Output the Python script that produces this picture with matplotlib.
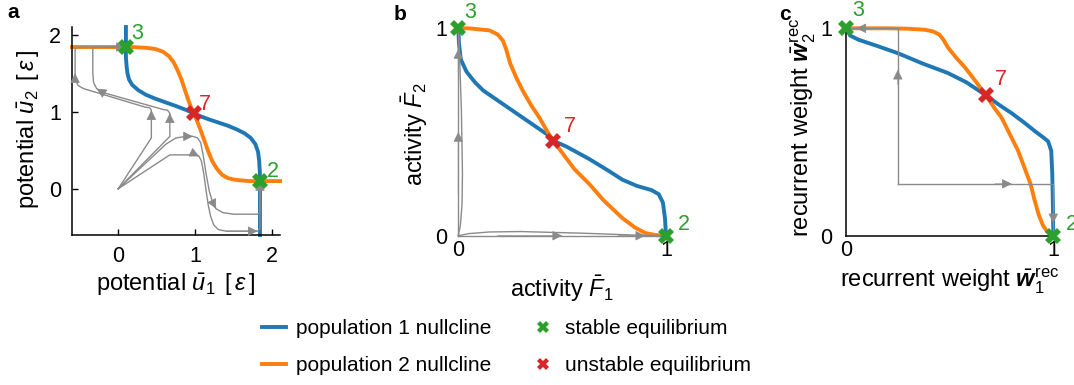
import matplotlib
matplotlib.use("Agg")
import matplotlib.pyplot as plt
from matplotlib.lines import Line2D

plt.rcParams["font.family"] = ["Liberation Sans", "DejaVu Sans"]
plt.rcParams["font.size"] = 15
plt.rcParams["mathtext.fontset"] = "custom"
plt.rcParams["mathtext.rm"] = "Liberation Sans"
plt.rcParams["mathtext.it"] = "Liberation Sans:italic"
plt.rcParams["mathtext.bf"] = "Liberation Sans:bold"
plt.rcParams["mathtext.bfit"] = "Liberation Sans:bold:italic"

BLUE = "#1f77b4"
ORANGE = "#ff7f0e"
GREEN = "#2ca02c"
RED = "#d62728"
GRAY = "#8a8a8a"

# ---------------- panel a: potentials ----------------
a_null1_u2 = [2.10, 1.90, 1.70, 1.58, 1.50, 1.42, 1.35, 1.28, 1.22, 1.17, 1.12, 1.07,
              1.02, 0.98, 0.94, 0.90, 0.86, 0.82, 0.77, 0.72, 0.66, 0.58, 0.48, 0.36,
              0.22, 0.10, -0.20, -0.60]
a_null1_u1 = [0.10, 0.10, 0.10, 0.11, 0.12, 0.14, 0.18, 0.26, 0.36, 0.48, 0.62, 0.76,
              0.89, 0.98, 1.07, 1.18, 1.30, 1.42, 1.54, 1.64, 1.72, 1.78, 1.815, 1.83,
              1.838, 1.84, 1.84, 1.84]
a_null2_u1 = [-0.60, -0.20, 0.10, 0.22, 0.36, 0.48, 0.58, 0.66, 0.72, 0.77, 0.82, 0.86,
              0.90, 0.94, 0.98, 1.02, 1.07, 1.12, 1.17, 1.22, 1.28, 1.35, 1.42, 1.50,
              1.58, 1.70, 1.90, 2.10]
a_null2_u2 = [1.84, 1.84, 1.84, 1.838, 1.83, 1.815, 1.78, 1.72, 1.64, 1.54, 1.42, 1.30,
              1.18, 1.07, 0.98, 0.89, 0.76, 0.62, 0.48, 0.36, 0.26, 0.18, 0.14, 0.12,
              0.11, 0.10, 0.10, 0.10]

a_traj_A_u1 = [0.0, 0.43, 0.43, 0.43, 0.41, 0.35, -0.45, -0.52, -0.55, -0.56, -0.56, -0.56, -0.54, -0.13, 0.10]
a_traj_A_u2 = [0.0, 0.66, 0.98, 1.02, 1.05, 1.06, 1.30, 1.34, 1.40, 1.44, 1.50, 1.81, 1.84, 1.84, 1.84]
a_traj_B_u1 = [0.0, 0.67, 0.67, 0.67, 0.64, 0.58, -0.20, -0.28, -0.32, -0.33, -0.33, -0.31, 0.10]
a_traj_B_u2 = [0.0, 0.68, 0.88, 0.98, 1.02, 1.03, 1.25, 1.30, 1.38, 1.50, 1.81, 1.84, 1.84]
a_traj_C_u1 = [0.0, 0.62, 0.75, 0.88, 0.97, 1.03, 1.07, 1.10, 1.14, 1.18, 1.22, 1.27, 1.36, 1.50, 1.81, 1.84, 1.84]
a_traj_C_u2 = [0.0, 0.58, 0.66, 0.68, 0.68, 0.66, 0.60, 0.45, 0.20, -0.02, -0.16, -0.26, -0.31, -0.33, -0.33, -0.30, 0.10]
a_traj_D_u1 = [0.0, 0.67, 1.01, 1.05, 1.08, 1.11, 1.14, 1.17, 1.20, 1.24, 1.30, 1.40, 1.81, 1.84, 1.84, 1.84]
a_traj_D_u2 = [0.0, 0.44, 0.44, 0.42, 0.36, 0.20, -0.02, -0.22, -0.36, -0.47, -0.53, -0.55, -0.55, -0.52, -0.12, 0.10]
# vertex indices carrying an arrowhead (pointing to the next vertex)
a_traj_A_arrows = [2, 9, 13]
a_traj_B_arrows = [2, 6]
a_traj_C_arrows = [3, 10]
a_traj_D_arrows = [2, 11, 14]

a_stable_u1 = [0.10, 1.84]
a_stable_u2 = [1.84, 0.10]
a_unstable_u1 = [0.98]
a_unstable_u2 = [0.98]

# ---------------- panel b: activities ----------------
b_null1_F1 = [0.0, 0.003, 0.012, 0.04, 0.08, 0.12, 0.20, 0.28, 0.36, 0.44, 0.457, 0.52,
              0.63, 0.72, 0.79, 0.86, 0.93, 0.965, 0.985, 0.995, 1.0]
b_null1_F2 = [1.0, 0.93, 0.85, 0.79, 0.74, 0.70, 0.645, 0.59, 0.535, 0.48, 0.458, 0.43,
              0.37, 0.315, 0.27, 0.24, 0.22, 0.20, 0.16, 0.085, 0.0]
b_null2_F1 = [0.0, 0.05, 0.10, 0.15, 0.19, 0.215, 0.23, 0.25, 0.28, 0.31, 0.35, 0.39,
              0.43, 0.457, 0.50, 0.56, 0.63, 0.70, 0.79, 0.85, 0.90, 0.95, 1.0]
b_null2_F2 = [1.0, 1.0, 0.995, 0.99, 0.97, 0.94, 0.90, 0.83, 0.76, 0.70, 0.63, 0.57,
              0.50, 0.458, 0.40, 0.32, 0.25, 0.17, 0.085, 0.04, 0.013, 0.003, 0.0]

b_traj_A_F1 = [0.0, 0.0, 0.0, 0.0, 0.0, 0.0]
b_traj_A_F2 = [0.0, 0.20, 0.50, 0.78, 0.90, 1.0]
b_traj_B_F1 = [0.0, 0.010, 0.018, 0.020, 0.015, 0.005, 0.0]
b_traj_B_F2 = [0.0, 0.05, 0.15, 0.30, 0.60, 0.90, 1.0]
b_traj_C_F1 = [0.0, 0.19, 0.50, 0.77, 0.90, 1.0]
b_traj_C_F2 = [0.0, 0.0, 0.0, 0.0, 0.0, 0.0]
b_traj_D_F1 = [0.0, 0.05, 0.15, 0.30, 0.60, 0.85, 1.0]
b_traj_D_F2 = [0.0, 0.010, 0.018, 0.020, 0.012, 0.003, 0.0]
b_traj_A_arrows = [1, 3]
b_traj_C_arrows = [1, 3]

b_stable_F1 = [0.0, 1.0]
b_stable_F2 = [1.0, 0.0]
b_unstable_F1 = [0.457]
b_unstable_F2 = [0.458]

# ---------------- panel c: recurrent weights ----------------
c_null1_w1 = [0.0, 0.02, 0.06, 0.15, 0.25, 0.37, 0.49, 0.58, 0.675, 0.74, 0.80, 0.86,
              0.91, 0.95, 0.975, 0.99, 0.995, 0.998, 1.0]
c_null1_w2 = [1.0, 0.965, 0.945, 0.915, 0.88, 0.83, 0.785, 0.74, 0.677, 0.63, 0.59, 0.545,
              0.505, 0.475, 0.455, 0.41, 0.30, 0.15, 0.0]
c_null2_w1 = [0.0, 0.10, 0.20, 0.30, 0.38, 0.42, 0.45, 0.47, 0.49, 0.53, 0.575, 0.625,
              0.675, 0.72, 0.75, 0.79, 0.83, 0.86, 0.89, 0.91, 0.93, 0.95, 0.97, 1.0]
c_null2_w2 = [1.0, 1.0, 1.0, 0.998, 0.993, 0.985, 0.97, 0.945, 0.91, 0.86, 0.81, 0.745,
              0.677, 0.61, 0.57, 0.49, 0.41, 0.33, 0.25, 0.17, 0.10, 0.05, 0.02, 0.0]

c_traj_A_w1 = [0.25, 0.25, 0.25, 0.25, 0.07, 0.05, 0.0]
c_traj_A_w2 = [0.25, 0.73, 0.80, 1.0, 1.0, 1.0, 1.0]
c_traj_B_w1 = [0.25, 0.72, 0.80, 1.0, 1.0, 1.0, 1.0]
c_traj_B_w2 = [0.25, 0.25, 0.25, 0.25, 0.085, 0.06, 0.0]
c_traj_A_arrows = [1, 4]
c_traj_B_arrows = [1, 4]

c_stable_w1 = [0.0, 1.0]
c_stable_w2 = [1.0, 0.0]
c_unstable_w1 = [0.675]
c_unstable_w2 = [0.677]

eq_labels_stable = ["3", "2"]
eq_labels_unstable = ["7"]

W, H = 1074, 385
fig = plt.figure(figsize=(W / 100, H / 100), dpi=100)

ax_a = fig.add_axes([72 / W, 1 - 235 / H, 208 / W, 208 / H])
ax_b = fig.add_axes([458.3 / W, 1 - 235.7 / H, 207.7 / W, 207.4 / H])
ax_c = fig.add_axes([846 / W, 1 - 235.7 / H, 207.3 / W, 207.4 / H])

NULL_LW = 2.8
TRAJ_LW = 1.0
TICK_FS = 15.5
LABEL_FS = 17


def draw_traj(ax, xs, ys, arrows=()):
    ax.plot(xs, ys, color=GRAY, lw=TRAJ_LW, zorder=3, clip_on=False,
            solid_joinstyle="round")
    for i in arrows:
        ax.annotate("", xy=(xs[i + 1], ys[i + 1]), xytext=(xs[i], ys[i]),
                    arrowprops=dict(arrowstyle="-|>,head_length=0.6,head_width=0.3",
                                    color=GRAY, lw=0.6, shrinkA=0, shrinkB=0,
                                    mutation_scale=10),
                    zorder=4)


def draw_equilibria(ax, sx, sy, ux, uy, offsets):
    ax.plot(sx, sy, ls="none", marker="X", ms=11, mew=0, color=GREEN,
            zorder=6, clip_on=False)
    ax.plot(ux, uy, ls="none", marker="X", ms=11, mew=0, color=RED,
            zorder=6, clip_on=False)
    pts = list(zip(sx, sy, eq_labels_stable, [GREEN] * len(sx))) + \
        list(zip(ux, uy, eq_labels_unstable, [RED] * len(ux)))
    for (x, y, lab, col), off in zip(pts, offsets):
        ax.annotate(lab, (x, y), xytext=off, textcoords="offset pixels",
                    color=col, fontsize=TICK_FS, ha="left", va="baseline",
                    zorder=7, annotation_clip=False)


# ---- panel a
ax = ax_a
ax.plot(a_null1_u1, a_null1_u2, color=BLUE, lw=NULL_LW, zorder=2, clip_on=False)
ax.plot(a_null2_u1, a_null2_u2, color=ORANGE, lw=NULL_LW, zorder=2, clip_on=False)
draw_traj(ax, a_traj_A_u1, a_traj_A_u2, a_traj_A_arrows)
draw_traj(ax, a_traj_B_u1, a_traj_B_u2, a_traj_B_arrows)
draw_traj(ax, a_traj_C_u1, a_traj_C_u2, a_traj_C_arrows)
draw_traj(ax, a_traj_D_u1, a_traj_D_u2, a_traj_D_arrows)
draw_equilibria(ax, a_stable_u1, a_stable_u2, a_unstable_u1, a_unstable_u2,
                [(5, 8), (7, 4), (5, 3)])
ax.set_xlim(-0.6, 2.1)
ax.set_ylim(-0.6, 2.1)
ax.set_xticks([0, 1, 2])
ax.set_yticks([0, 1, 2])
ax.tick_params(direction="in", length=4, width=1, pad=8, labelsize=TICK_FS)
ax.tick_params(axis="y", pad=8)
ax.set_xlabel(r"potential $\bar{u}_1\,$ [$\,\varepsilon\,$]", fontsize=LABEL_FS)
ax.set_ylabel(r"potential $\bar{u}_2\,$ [$\,\varepsilon\,$]", fontsize=LABEL_FS)
ax.xaxis.set_label_coords(0.5, -0.175)
ax.yaxis.set_label_coords(-0.145, 0.51)

# ---- panel b
ax = ax_b
ax.plot(b_null1_F1, b_null1_F2, color=BLUE, lw=NULL_LW, zorder=2, clip_on=False)
ax.plot(b_null2_F1, b_null2_F2, color=ORANGE, lw=NULL_LW, zorder=2, clip_on=False)
draw_traj(ax, b_traj_B_F1, b_traj_B_F2)
draw_traj(ax, b_traj_D_F1, b_traj_D_F2)
draw_traj(ax, b_traj_A_F1, b_traj_A_F2, b_traj_A_arrows)
draw_traj(ax, b_traj_C_F1, b_traj_C_F2, b_traj_C_arrows)
draw_equilibria(ax, b_stable_F1, b_stable_F2, b_unstable_F1, b_unstable_F2,
                [(6, 10), (12, 6), (11, 9)])
ax.set_xlim(0, 1)
ax.set_ylim(0, 1)
ax.set_xticks([0, 1])
ax.set_yticks([0, 1])
for s in ax.spines.values():
    s.set_visible(False)
ax.tick_params(length=0, labelsize=TICK_FS)
ax.tick_params(axis="x", pad=3)
ax.tick_params(axis="y", pad=8)
ax.set_xlabel(r"activity $\bar{F}_1$", fontsize=LABEL_FS)
ax.set_ylabel(r"activity $\bar{F}_2$", fontsize=LABEL_FS)
ax.xaxis.set_label_coords(0.5, -0.18)
ax.yaxis.set_label_coords(-0.136, 0.49)

# ---- panel c
ax = ax_c
ax.plot(c_null1_w1, c_null1_w2, color=BLUE, lw=NULL_LW, zorder=2, clip_on=False)
ax.plot(c_null2_w1, c_null2_w2, color=ORANGE, lw=NULL_LW, zorder=2, clip_on=False)
draw_traj(ax, c_traj_A_w1, c_traj_A_w2, c_traj_A_arrows)
draw_traj(ax, c_traj_B_w1, c_traj_B_w2, c_traj_B_arrows)
draw_equilibria(ax, c_stable_w1, c_stable_w2, c_unstable_w1, c_unstable_w2,
                [(6, 12), (13, 6), (9, 10)])
ax.set_xlim(0, 1)
ax.set_ylim(0, 1)
ax.set_xticks([0, 1])
ax.set_yticks([0, 1])
ax.tick_params(length=0, labelsize=TICK_FS)
ax.tick_params(axis="x", pad=3)
ax.tick_params(axis="y", pad=10)
ax.set_xlabel(r"recurrent weight $\bar{\mathbfit{w}}_1^{\mathrm{rec}}$", fontsize=LABEL_FS)
ax.set_ylabel(r"recurrent weight $\bar{\mathbfit{w}}_2^{\mathrm{rec}}$", fontsize=LABEL_FS)
ax.xaxis.set_label_coords(0.5, -0.15)
ax.yaxis.set_label_coords(-0.135, 0.52)

for ax in (ax_a, ax_c):
    ax.spines["top"].set_visible(False)
    ax.spines["right"].set_visible(False)
    ax.spines["left"].set_linewidth(1.1)
    ax.spines["bottom"].set_linewidth(1.1)

# panel letters
fig.text(7 / W, 1 - 18.3 / H, "a", fontsize=15, fontweight="bold", va="baseline")
fig.text(394 / W, 1 - 20 / H, "b", fontsize=15, fontweight="bold", va="baseline")
fig.text(779 / W, 1 - 20 / H, "c", fontsize=15, fontweight="bold", va="baseline")

handles = [
    Line2D([], [], color=BLUE, lw=NULL_LW),
    Line2D([], [], color=ORANGE, lw=NULL_LW),
    Line2D([], [], ls="none", marker="X", ms=8, mew=0, color=GREEN),
    Line2D([], [], ls="none", marker="X", ms=8, mew=0, color=RED),
]
labels = ["population 1 nullcline", "population 2 nullcline",
          "stable equilibrium", "unstable equilibrium"]
fig.legend(handles, labels, ncol=2, frameon=False, fontsize=15,
           loc="upper left", bbox_to_anchor=(262 / W, 1 - 319 / H),
           borderpad=0, borderaxespad=0, handlelength=1.15, handletextpad=0.48,
           columnspacing=1.92, labelspacing=0.88)

fig.savefig("out.png", dpi=100)
